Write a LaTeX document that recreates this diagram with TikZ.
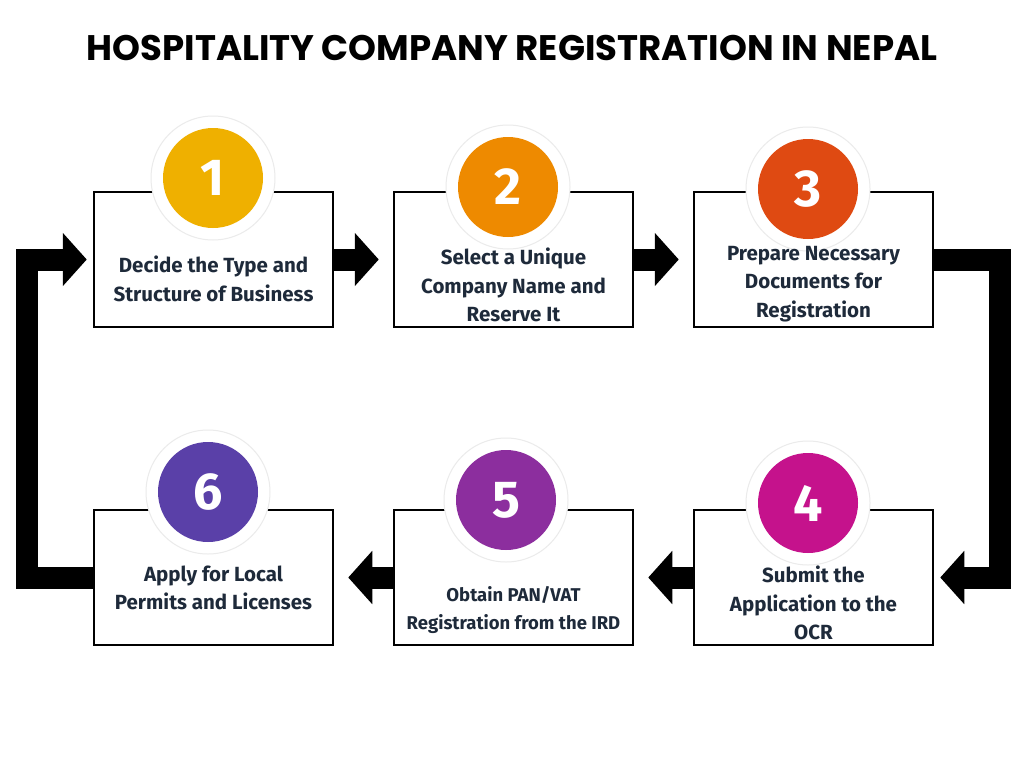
\documentclass[tikz,border=0pt]{standalone}
\usepackage{fontspec}
\setmainfont{Fira Sans}
\newfontfamily\titlefont{Poppins}
\newfontfamily\numfont{Fira Sans Extra Condensed}
\usetikzlibrary{arrows.meta}
\definecolor{txtnavy}{HTML}{1E2A3A}
\definecolor{cone}{HTML}{EFB000}
\definecolor{ctwo}{HTML}{EE8A00}
\definecolor{cthree}{HTML}{DF4A12}
\definecolor{cfour}{HTML}{C5128C}
\definecolor{cfive}{HTML}{8C2E9E}
\definecolor{csix}{HTML}{5A40A8}
\begin{document}
\begin{tikzpicture}[x=1pt,y=-1pt,
	stepbox/.style={rectangle, draw=black, line width=2.5pt, fill=white, minimum width=239pt, minimum height=135pt},
	halo/.style={circle, fill=white, draw=black!8, line width=1pt, minimum size=124pt},
	badge/.style={circle, minimum size=100pt, text=white, font=\fontsize{52}{52}\selectfont\bfseries},
	steptext/.style={text=txtnavy, align=center, font=\fontsize{20.5}{28.5}\selectfont\bfseries},
	flow/.style={line width=22pt, -{Triangle[length=24pt,width=52pt]}},
	loop/.style={flow, line join=miter}
	]
	\useasboundingbox[fill=white] (0,0) rectangle (1024,768);
	\node[font=\titlefont\fontsize{35.5}{36}\selectfont\bfseries] (title) at (512,48) {HOSPITALITY COMPANY REGISTRATION IN NEPAL};
	% boxes
	\node[stepbox] (b1) at (213.5,259.5) {};
	\node[stepbox] (b2) at (513.5,259.5) {};
	\node[stepbox] (b3) at (813.5,259.5) {};
	\node[stepbox] (b4) at (813.5,577.5) {};
	\node[stepbox] (b5) at (513.5,577.5) {};
	\node[stepbox] (b6) at (213.5,577.5) {};
	% number badges
	\node[halo] (h1) at (213,178) {};
	\node[badge, fill=cone] (n1) at (213,178) {1};
	\node[halo] (h2) at (508,187) {};
	\node[badge, fill=ctwo] (n2) at (508,187) {2};
	\node[halo] (h3) at (808,189) {};
	\node[badge, fill=cthree] (n3) at (808,189) {3};
	\node[halo] (h4) at (808,503) {};
	\node[badge, fill=cfour] (n4) at (808,503) {4};
	\node[halo] (h5) at (506,500) {};
	\node[badge, fill=cfive] (n5) at (506,500) {5};
	\node[halo] (h6) at (208,492) {};
	\node[badge, fill=csix] (n6) at (208,492) {6};
	% texts
	\node[steptext] (t1) at (213.5,279) {Decide the Type and\\Structure of Business};
	\node[steptext] (t2) at (513.5,285) {Select a Unique\\Company Name and\\Reserve It};
	\node[steptext] (t3) at (813.5,284) {Prepare Necessary\\Documents for\\Registration};
	\node[steptext] (t4) at (813.5,603) {Submit the\\Application to the\\OCR};
	\node[steptext, font=\fontsize{18.5}{28}\selectfont\bfseries] (t5) at (513.5,610) {Obtain PAN/VAT\\Registration from the IRD};
	\node[steptext] (t6) at (213.5,588) {Apply for Local\\Permits and Licenses};
	% connectors
	\draw[flow, shorten >=14pt] (b1.east) -- (b2.west);
	\draw[flow, shorten >=14pt] (b2.east) -- (b3.west);
	\draw[flow, shorten >=14pt] (b4.west) -- (b5.east);
	\draw[flow, shorten >=14pt] (b5.west) -- (b6.east);
	\draw[loop, shorten >=6pt] (b3.east) -- ++(66,0) |- (b4.east);
	\draw[loop, shorten >=6pt] (b6.west) -- ++(-66,0) |- (b1.west);
\end{tikzpicture}
\end{document}
